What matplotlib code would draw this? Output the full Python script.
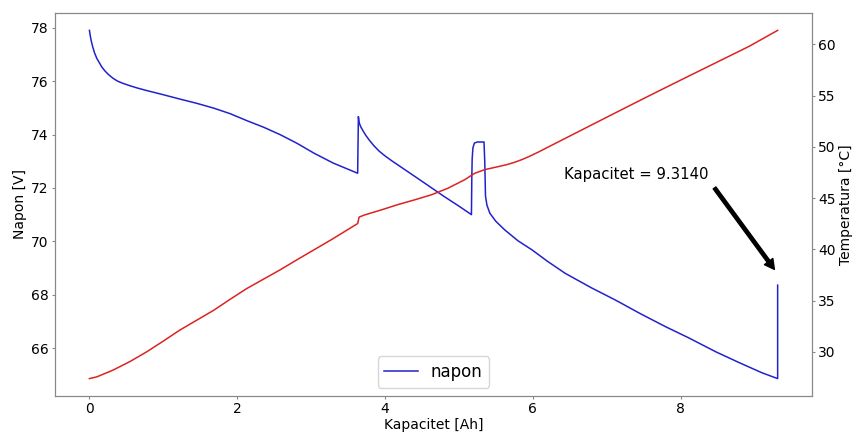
import matplotlib
matplotlib.use("Agg")
import matplotlib.pyplot as plt

# Voltage (napon) vs capacity
kap_v = [0.00, 0.01, 0.025, 0.045, 0.07, 0.10, 0.136, 0.17, 0.21, 0.26, 0.317, 0.38, 0.45,
         0.544, 0.65, 0.77, 1.00, 1.22, 1.45, 1.68, 1.905, 2.13, 2.36, 2.585, 2.81, 3.04,
         3.30, 3.50, 3.63,
         3.64, 3.65, 3.67, 3.70, 3.74, 3.79, 3.85, 3.92, 4.00, 4.10, 4.17, 4.50, 4.80,
         5.00, 5.17,
         5.175, 5.18, 5.19, 5.21, 5.25, 5.30, 5.34, 5.35, 5.36, 5.38, 5.42, 5.50,
         5.62, 5.80, 5.99, 6.20, 6.44, 6.80, 7.12, 7.45, 7.80, 8.10, 8.48, 8.80,
         9.10, 9.314, 9.314]
napon = [77.90, 77.72, 77.50, 77.28, 77.05, 76.85, 76.68, 76.52, 76.38, 76.24, 76.11, 76.00, 75.92,
         75.83, 75.74, 75.65, 75.49, 75.33, 75.17, 74.99, 74.78, 74.52, 74.27, 73.99, 73.67, 73.30,
         72.93, 72.70, 72.55,
         74.67, 74.45, 74.30, 74.15, 73.97, 73.78, 73.58, 73.38, 73.20, 73.00, 72.87, 72.25, 71.68,
         71.32, 71.00,
         72.40, 73.10, 73.50, 73.68, 73.72, 73.72, 73.72, 73.00, 71.70, 71.35, 71.05, 70.75,
         70.43, 70.02, 69.68, 69.25, 68.80, 68.25, 67.80, 67.30, 66.80, 66.40, 65.86, 65.45,
         65.08, 64.86, 68.36]

# Temperature vs capacity
kap_t = [0.00, 0.10, 0.317, 0.55, 0.77, 1.00, 1.22, 1.45, 1.68, 1.90, 2.13, 2.36, 2.585, 2.81,
         3.04, 3.27, 3.49, 3.63,
         3.65, 3.72, 3.95, 4.17, 4.40, 4.63, 4.85, 5.08, 5.21, 5.35, 5.53, 5.65, 5.76, 5.86,
         5.95, 6.08, 6.21, 6.67, 7.12, 7.57, 8.03, 8.48, 8.93, 9.314]
temperatura = [27.38, 27.55, 28.20, 29.05, 29.97, 31.04, 32.10, 33.07, 34.04, 35.10, 36.17, 37.10,
               38.01, 38.98, 39.95, 40.92, 41.89, 42.51,
               43.14, 43.34, 43.84, 44.35, 44.82, 45.32, 45.95, 46.79, 47.40, 47.77, 48.06, 48.26,
               48.50, 48.77, 49.05, 49.50, 49.98, 51.67, 53.32, 54.96, 56.61, 58.21, 59.81, 61.36]

kapacitet_final = 9.3140

plt.rcParams['font.family'] = ['DejaVu Sans']
fs = 10

fig = plt.figure(figsize=(8.53, 4.32), dpi=100)
ax = fig.add_subplot(111)
fig.subplots_adjust(left=0.0645, right=0.952, top=0.97, bottom=0.0833)

ax.plot(kap_v, napon, color='#2222cc', lw=1.1, label='napon')
ax.set_xlabel('Kapacitet [Ah]', fontsize=fs, labelpad=1)
ax.set_ylabel('Napon [V]', fontsize=fs, labelpad=3)
ax.tick_params(labelsize=fs, length=2.5, pad=2)
ax.legend(loc='lower center', fontsize=12)

ax2 = ax.twinx()
ax2.plot(kap_t, temperatura, color='#dd2222', lw=1.1, label='temperatura')
ax2.set_ylabel('Temperatura [°C]', fontsize=fs, labelpad=2)
ax2.tick_params(labelsize=fs, length=2.5, pad=2)

for a in (ax, ax2):
    for s in a.spines.values():
        s.set_color('#888888')
    a.tick_params(color='#888888')

ax.text(6.42, 72.49, 'Kapacitet = %.4f' % kapacitet_final, fontsize=10.7, va='center', ha='left')
ax.annotate('', xy=(9.27, 68.95), xytext=(8.46, 72.0),
            arrowprops=dict(facecolor='black', edgecolor='black', width=2.4, headwidth=7.5, headlength=7))

fig.savefig('out.png', dpi=100)
